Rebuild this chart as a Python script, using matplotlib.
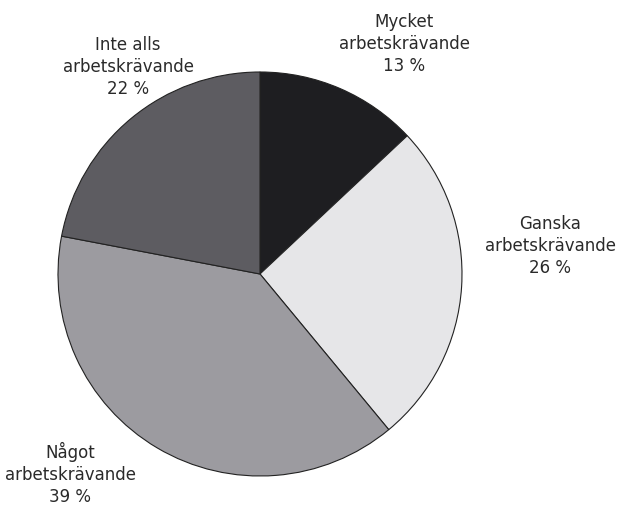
import matplotlib.pyplot as plt

# slices, clockwise from 12 o'clock
labels = ['Mycket\narbetskrävande', 'Ganska\narbetskrävande',
          'Något\narbetskrävande', 'Inte alls\narbetskrävande']
shares = [13, 26, 39, 22]
colors = ['#1e1e21', '#e6e6e8', '#9c9ba0', '#5d5c61']

# label centres in pixel coords (y from top)
label_pos = [(404, 44), (550, 246), (70, 474), (128, 67)]

W, H = 620, 506
fig = plt.figure(figsize=(W / 100, H / 100), dpi=100)
ax = fig.add_axes([0, 0, 1, 1])

cx, cy, r = 260, 275, 202
ax.pie(shares, colors=colors, startangle=90, counterclock=False,
       center=(cx, H - cy), radius=r, frame=True,
       wedgeprops=dict(edgecolor='#222222', linewidth=0.8))
ax.set_xlim(0, W)
ax.set_ylim(0, H)
ax.axis('off')

for lab, val, (x, y) in zip(labels, shares, label_pos):
    ax.text(x, H - y, f'{lab}\n{val} %', ha='center', va='center',
            fontsize=12, color='#2a2a2a', linespacing=1.3,
            family='DejaVu Sans')

fig.savefig('out.png', dpi=100)
